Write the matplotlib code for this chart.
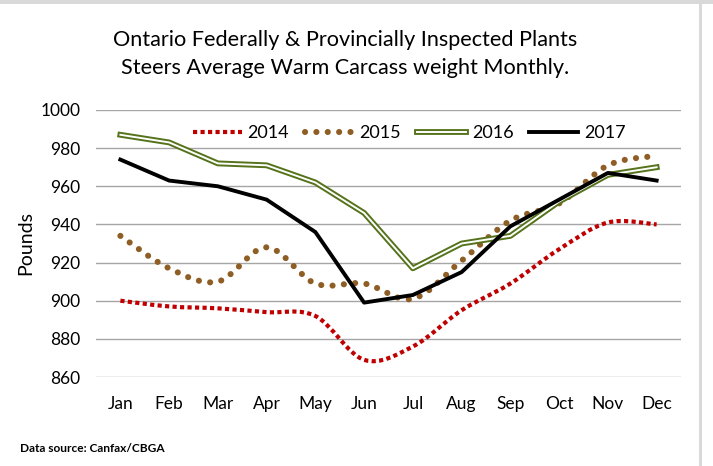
import matplotlib
matplotlib.use("Agg")
import matplotlib.pyplot as plt
from matplotlib.path import Path
from matplotlib.patches import PathPatch, Rectangle
from matplotlib.lines import Line2D
from matplotlib.legend_handler import HandlerTuple
import numpy as np

plt.rcParams['font.family'] = ['Lato', 'DejaVu Sans']

months = ["Jan", "Feb", "Mar", "Apr", "May", "Jun", "Jul", "Aug", "Sep", "Oct", "Nov", "Dec"]
y2014 = [900, 897, 896, 894, 892, 869, 876, 895, 909, 927, 941, 940]
y2015 = [934, 917, 910, 928, 909, 909, 901, 921, 942, 951, 971, 976]
y2016 = [987, 983, 972, 971, 962, 946, 917, 930, 934, 952, 966, 970]
y2017 = [974, 963, 960, 953, 936, 899, 903, 915, 939, 953, 967, 963]
yticks = [860, 880, 900, 920, 940, 960, 980, 1000]

title1 = "Ontario Federally & Provincially Inspected Plants"
title2 = "Steers Average Warm Carcass weight Monthly."

C14 = "#C00000"
C15 = "#8E5E24"
C16 = "#55731A"
C17 = "#000000"


def smooth_path(xs, ys):
    xs = np.asarray(xs, float)
    ys = np.asarray(ys, float)
    n = len(xs)
    verts = [(xs[0], ys[0])]
    codes = [Path.MOVETO]
    for i in range(n - 1):
        p0 = np.array([xs[max(i - 1, 0)], ys[max(i - 1, 0)]])
        p1 = np.array([xs[i], ys[i]])
        p2 = np.array([xs[i + 1], ys[i + 1]])
        p3 = np.array([xs[min(i + 2, n - 1)], ys[min(i + 2, n - 1)]])
        c1 = p1 + (p2 - p0) / 6.0
        c2 = p2 - (p3 - p1) / 6.0
        verts += [tuple(c1), tuple(c2), tuple(p2)]
        codes += [Path.CURVE4] * 3
    return Path(verts, codes)


fig = plt.figure(figsize=(7.13, 4.66), dpi=100)
fig.patch.set_facecolor("white")
# page border strips
fig.patches.append(Rectangle((0, 1 - 4 / 466), 1, 4 / 466, transform=fig.transFigure,
                             facecolor="#D9D9D9", edgecolor="none", zorder=0))
fig.patches.append(Rectangle((699 / 713, 0), 3 / 713, 1, transform=fig.transFigure,
                             facecolor="#D9D9D9", edgecolor="none", zorder=0))

ax = fig.add_axes([96 / 713, 1 - 377 / 466, 585 / 713, 267 / 466])
x = np.arange(len(months))

LS14 = (0, (1, 0.8))
LS15 = (0, (0.01, 1.85))

# 2014 - square dots, smoothed
p14 = PathPatch(smooth_path(x, y2014), facecolor="none", edgecolor=C14, lw=3.0,
                linestyle=LS14, capstyle="butt", zorder=3)
ax.add_patch(p14)
# 2015 - round dots, smoothed
p15 = PathPatch(smooth_path(x, y2015), facecolor="none", edgecolor=C15, lw=4.4,
                linestyle=LS15, capstyle="round", zorder=4)
ax.add_patch(p15)
# 2016 - double line
ax.plot(x, y2016, color=C16, lw=4.2, solid_joinstyle="round", zorder=5)
ax.plot(x, y2016, color="white", lw=1.4, solid_joinstyle="round", zorder=5)
# 2017 - solid black
ax.plot(x, y2017, color=C17, lw=2.8, solid_joinstyle="round", zorder=6)

ax.set_xlim(-0.5, len(months) - 0.5)
ax.set_ylim(yticks[0], yticks[-1])
ax.set_yticks(yticks)
ax.set_xticks(x)
ax.set_xticklabels(months)
ax.grid(axis="y", color="#A6A6A6", lw=1.0)
ax.set_axisbelow(True)
for s in ax.spines.values():
    s.set_visible(False)
ax.tick_params(axis="both", length=0, labelsize=12.5, colors="#000000")
ax.tick_params(axis="x", pad=14)
ax.tick_params(axis="y", pad=11)

h14 = Line2D([], [], color=C14, lw=3.0, linestyle=LS14, dash_capstyle="butt")
h15 = Line2D([], [], color=C15, lw=4.4, linestyle=LS15, dash_capstyle="round")
h16a = Line2D([], [], color=C16, lw=4.2)
h16b = Line2D([], [], color="white", lw=1.4)
h17 = Line2D([], [], color=C17, lw=2.8)
leg = ax.legend([h14, h15, (h16a, h16b), h17], ["2014", "2015", "2016", "2017"],
                handler_map={tuple: HandlerTuple(ndivide=1, pad=0)},
                loc="upper center", bbox_to_anchor=(0.535, 1.0), ncol=4, frameon=False,
                fontsize=13, handlelength=2.75, handletextpad=0.3, columnspacing=0.85,
                borderaxespad=0.45)

fig.text(345 / 713, 1 - 40 / 466, title1, ha="center", va="center", fontsize=15.6)
fig.text(345 / 713, 1 - 68 / 466, title2, ha="center", va="center", fontsize=15.6)
fig.text(26 / 713, 1 - 243 / 466, "Pounds", rotation=90, ha="center", va="center", fontsize=14)
fig.text(20 / 713, 1 - 448 / 466, "Data source: Canfax/CBGA", ha="left", va="center",
         fontsize=8.6, fontweight="bold")

fig.savefig("out.png", dpi=100)
